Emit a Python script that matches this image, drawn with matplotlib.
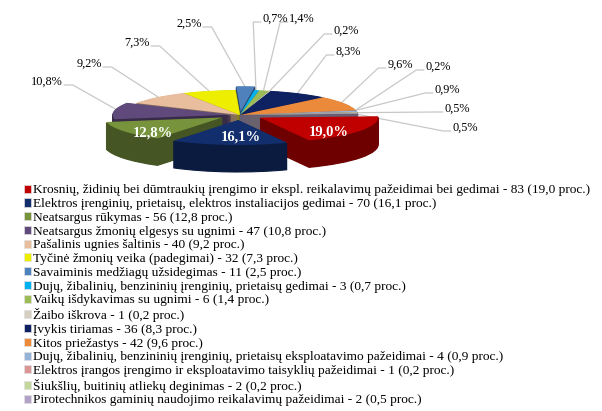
import numpy as np
import matplotlib
matplotlib.use("Agg")
import matplotlib.pyplot as plt
from matplotlib.patches import Patch
from matplotlib.colors import to_rgb

# ---------------- data ----------------
categories = [
    "Krosnių, židinių bei dūmtraukių įrengimo ir ekspl. reikalavimų pažeidimai bei gedimai - 83 (19,0 proc.)",
    "Elektros įrenginių, prietaisų, elektros instaliacijos gedimai - 70 (16,1 proc.)",
    "Neatsargus rūkymas - 56 (12,8 proc.)",
    "Neatsargus žmonių elgesys su ugnimi - 47 (10,8 proc.)",
    "Pašalinis ugnies šaltinis - 40 (9,2 proc.)",
    "Tyčinė žmonių veika (padegimai) - 32 (7,3 proc.)",
    "Savaiminis medžiagų užsidegimas - 11 (2,5 proc.)",
    "Dujų, žibalinių, benzininių įrenginių, prietaisų gedimai - 3 (0,7 proc.)",
    "Vaikų išdykavimas su ugnimi - 6 (1,4 proc.)",
    "Žaibo iškrova - 1 (0,2 proc.)",
    "Įvykis tiriamas - 36 (8,3 proc.)",
    "Kitos priežastys - 42 (9,6 proc.)",
    "Dujų, žibalinių, benzininių įrenginių, prietaisų eksploatavimo pažeidimai - 4 (0,9 proc.)",
    "Elektros įrangos įrengimo ir eksploatavimo taisyklių pažeidimai - 1 (0,2 proc.)",
    "Šiukšlių, buitinių atliekų deginimas - 2 (0,2 proc.)",
    "Pirotechnikos gaminių naudojimo reikalavimų pažeidimai - 2 (0,5 proc.)",
]
counts = [83, 70, 56, 47, 40, 32, 11, 3, 6, 1, 36, 42, 4, 1, 2, 2]

# ---------------- styles / layout ----------------
colors = ["#C00000", "#122E6C", "#77933C", "#604A7B", "#E8BE9E", "#EEEE00",
          "#4F81BD", "#00B0F0", "#9BBB59", "#D4CFC0", "#0E2160", "#EC8A3C",
          "#95B3D7", "#D99694", "#C3D69B", "#B3A2C7"]
explode = [0.20, 0.20, 0.18, 0.08, 0, 0, 0.15, 0, 0, 0, 0, 0, 0, 0, 0, 0]
START = 3
# label positions in pixel coords (x, y from top); side = where leader leaves
label_pos = {
    0: (329, 132, "in"), 1: (241, 137, "in"), 2: (153, 133, "in"),
    3: (47, 82, "r"), 4: (89, 64, "r"), 5: (137, 43, "r"), 6: (189, 24, "r"),
    7: (275, 19, "l"), 8: (302, 19, "l"), 9: (346, 31, "l"), 10: (348, 52, "l"),
    11: (400, 65, "l"), 12: (447, 90, "l"), 13: (438, 67, "l"),
    14: (457, 109, "l"), 15: (465, 128, "l"),
}

W, H = 602, 411
CX, CY, RX, RY = 240.0, 115.0, 118.0, 25.0
DEPTH = 27.0
SERIF = ["Liberation Serif", "DejaVu Serif"]

fig = plt.figure(figsize=(W / 100, H / 100), dpi=100)
ax = fig.add_axes([0, 0, 1, 1])


def to_data(px, py):
    return (px - CX) / RX, (CY - py) / RY


def shade(c, f):
    r, g, b = to_rgb(c)
    return (r * f, g * f, b * f)


dark = [shade(c, 0.58) for c in colors]
n_layers = 27
step = DEPTH / RY / n_layers
for k in range(n_layers, 0, -1):
    ws, _ = ax.pie(counts, explode=explode, colors=dark, startangle=START,
                   counterclock=False, center=(0, -k * step), radius=1,
                   wedgeprops=dict(linewidth=0.8))
    for w in ws:
        w.set_edgecolor(w.get_facecolor())

top, _ = ax.pie(counts, explode=explode, colors=colors, startangle=START,
                counterclock=False, center=(0, 0), radius=1,
                wedgeprops=dict(linewidth=0))

ax.set_aspect("auto")
ax.set_xlim(to_data(0, 0)[0], to_data(W, 0)[0])
ax.set_ylim(to_data(0, H)[1], to_data(0, 0)[1])
ax.axis("off")

total = sum(counts)
texts = []
for i, v in enumerate(counts):
    lab = f"{v / total * 100:.1f}".replace(".", ",") + "%"
    px, py, side = label_pos[i]
    x, y = to_data(px, py)
    if side == "in":
        ax.text(x, y, lab, ha="center", va="center", fontsize=10.5,
                fontweight="bold", color="white", family=SERIF, zorder=10)
    else:
        t = ax.text(x, y, lab, ha="center", va="center", fontsize=8.8,
                    color="black", family=SERIF, zorder=10)
        texts.append((i, t, side))

fig.canvas.draw()
renderer = fig.canvas.get_renderer()
for i, t, side in texts:
    bb = t.get_window_extent(renderer)
    w = top[i]
    mid = np.deg2rad((w.theta1 + w.theta2) / 2)
    cx, cy = w.center
    ax_x, ax_y = cx + 0.96 * w.r * np.cos(mid), cy + 0.96 * w.r * np.sin(mid)
    ypx = H - (bb.y0 + bb.y1) / 2 + 3
    if side == "r":
        sx = bb.x1 + 1
        ex = sx + 9
    else:
        sx = bb.x0 - 1
        ex = sx - 8
    p0 = to_data(sx, ypx)
    p1 = to_data(ex, ypx)
    ax.plot([p0[0], p1[0], ax_x], [p0[1], p1[1], ax_y], color="#C8C8C8",
            lw=0.9, zorder=0.5, solid_capstyle="butt")

handles = [Patch(facecolor=c, edgecolor="#E0E0E0", linewidth=0.5) for c in colors]
fig.legend(handles, categories, loc="upper left",
           bbox_to_anchor=(23.5 / W, 1 - 184.5 / H), frameon=False,
           prop=dict(family=SERIF, size=9.6), handlelength=0.55, handleheight=0.55,
           handletextpad=0.15, labelspacing=0.13, borderaxespad=0, borderpad=0)

fig.savefig("out.png", dpi=100)
